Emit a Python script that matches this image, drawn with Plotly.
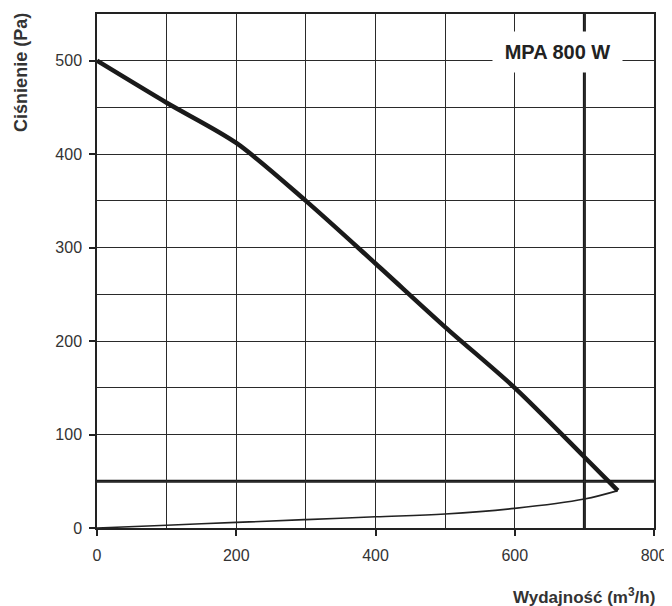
import plotly.graph_objects as go

# Fan pressure curve
flow_fan = [0, 100, 200, 300, 400, 500, 600, 700, 748]
pressure_fan = [500, 455, 412, 350, 283, 215, 150, 76, 40]

# System (duct) curve
flow_sys = [0, 100, 200, 300, 400, 500, 600, 700, 748]
pressure_sys = [0, 3, 6, 9, 12, 15, 21, 31, 40]

ref_flow = 700
ref_pressure = 50
label = "MPA 800 W"
label_x = 662
label_y = 509
x_title = "Wydajność (m<sup>3</sup>/h)"
y_title = "Ciśnienie (Pa)"

FONT = "Liberation Sans, Arial, sans-serif"

fig = go.Figure()
fig.add_trace(go.Scatter(x=flow_sys, y=pressure_sys, mode="lines",
                         line=dict(color="#222", width=1.6, shape="spline", smoothing=1.0),
                         showlegend=False))
fig.add_trace(go.Scatter(x=flow_fan, y=pressure_fan, mode="lines",
                         line=dict(color="#1a1a1a", width=4.5, shape="spline", smoothing=0.8),
                         showlegend=False))

fig.add_shape(type="line", x0=ref_flow, x1=ref_flow, y0=0, y1=550, xref="x", yref="y",
              line=dict(color="#1a1a1a", width=3), layer="below")
fig.add_shape(type="line", x0=0, x1=800, y0=ref_pressure, y1=ref_pressure, xref="x", yref="y",
              line=dict(color="#1a1a1a", width=3), layer="below")

fig.add_annotation(x=label_x, y=label_y, xref="x", yref="y", text="<b>" + label + "</b>",
                   showarrow=False, bgcolor="white", borderpad=5, width=119, height=30,
                   font=dict(family=FONT, size=20, color="#222"))

fig.add_annotation(x=-0.1356, y=1.006, xref="paper", yref="paper", text="<b>" + y_title + "</b>",
                   textangle=-90, showarrow=False, xanchor="center", yanchor="top",
                   font=dict(family=FONT, size=18, color="#333"))
fig.add_annotation(x=1.006, y=-0.133, xref="paper", yref="paper", text="<b>" + x_title + "</b>",
                   showarrow=False, xanchor="right", yanchor="middle",
                   font=dict(family=FONT, size=17, color="#333"))

axis_common = dict(showline=True, linecolor="#222", linewidth=1.5, mirror=True,
                   gridcolor="#2a2a2a", gridwidth=1.3, zeroline=False,
                   ticks="outside", ticklen=6, tickcolor="#222", tickwidth=1.5,
                   tickfont=dict(family=FONT, size=16, color="#333"))

fig.update_xaxes(range=[0, 800], dtick=200, tick0=0, ticklabelstandoff=6,
                 minor=dict(dtick=100, showgrid=True, gridcolor="#2a2a2a", gridwidth=1.3, ticks=""),
                 **axis_common)
fig.update_yaxes(range=[0, 550], dtick=100, tick0=0, ticklabelstandoff=4,
                 minor=dict(dtick=50, showgrid=True, gridcolor="#2a2a2a", gridwidth=1.3, ticks=""),
                 **axis_common)

fig.update_layout(width=664, height=598, margin=dict(l=89, r=18, t=4, b=78),
                  plot_bgcolor="white", paper_bgcolor="white")

fig.write_html("out.html")
